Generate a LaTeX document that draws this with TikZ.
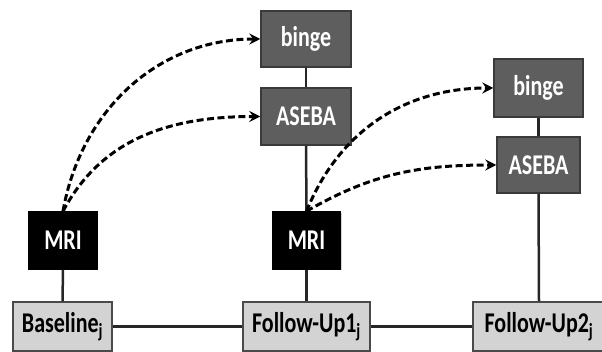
\documentclass[tikz,border=0pt]{standalone}
\usepackage{fontspec}
\setmainfont{Carlito}
\usetikzlibrary{arrows.meta,shadows}
\definecolor{darkbox}{HTML}{5E5E5E}
\definecolor{darkedge}{HTML}{3A3A3A}
\definecolor{lightbox}{HTML}{D3D3D3}
\definecolor{lightedge}{HTML}{4A4A4A}
\newcommand{\vs}[1]{\scalebox{1}[1.3]{#1}}
\tikzset{
  boxbase/.style={rectangle, inner sep=0pt, line width=1.5pt,
    font=\fontsize{22}{26}\selectfont\bfseries,
    drop shadow={shadow xshift=1.2pt, shadow yshift=-1.2pt, opacity=0.35}},
  darkstyle/.style={boxbase, fill=darkbox, draw=darkedge, text=white},
  mristyle/.style={boxbase, fill=black, draw=black, text=white},
  timestyle/.style={boxbase, fill=lightbox, draw=lightedge, text=black},
  link/.style={line width=2.5pt, draw=black!85},
  dasharrow/.style={line width=3pt, dash pattern=on 7pt off 3.5pt,
    -{Stealth[length=11pt,width=11pt,inset=4pt]}}
}
\begin{document}
\begin{tikzpicture}[x=1pt,y=-1pt]
\useasboundingbox (0,0) rectangle (602,352);
\clip (0,0) rectangle (602,352);
% time points
\node[timestyle, minimum width=99pt, minimum height=49pt] (base) at (62.5,326.5) {\vs{Baseline\textsubscript{j}}};
\node[timestyle, minimum width=127pt, minimum height=49pt] (fu1) at (306.5,326.5) {\vs{Follow-Up1\textsubscript{j}}};
\node[timestyle, minimum width=132pt, minimum height=49pt] (fu2) at (539,326.5) {\vs{Follow-Up2\textsubscript{j}}};
% MRI
\node[mristyle, minimum width=68pt, minimum height=57pt] (mri1) at (63,240.5) {\vs{MRI}};
\node[mristyle, minimum width=68pt, minimum height=57pt] (mri2) at (306.5,240.5) {\vs{MRI}};
% outcomes
\node[darkstyle, minimum width=90pt, minimum height=56pt] (binge1) at (306,39) {\vs{binge}};
\node[darkstyle, minimum width=90pt, minimum height=57pt] (aseba1) at (306,116.5) {\vs{ASEBA}};
\node[darkstyle, minimum width=89pt, minimum height=58pt] (binge2) at (538.5,88) {\vs{binge}};
\node[darkstyle, minimum width=83pt, minimum height=56pt] (aseba2) at (538.5,165) {\vs{ASEBA}};
% solid links
\draw[link] (base.east) -- (fu1.west);
\draw[link] (fu1.east) -- (fu2.west);
\draw[link] (mri1.south) -- (base.north);
\draw[link] (mri2.south) -- (fu1.north);
\draw[link] (binge1.south) -- (aseba1.north);
\draw[link] (aseba1.south) -- (mri2.north);
\draw[link] (binge2.south) -- (aseba2.north);
\draw[link] (aseba2.south) -- (fu2.north);
% dashed arrows
\draw[dasharrow] (mri1.north) to[out=80, in=180] (binge1.west);
\draw[dasharrow] (mri1.north) to[out=62, in=180] (aseba1.west);
\draw[dasharrow] (mri2.north) to[out=68, in=180] (binge2.west);
\draw[dasharrow] (mri2.north) to[out=30, in=180] (aseba2.west);
\end{tikzpicture}
\end{document}
